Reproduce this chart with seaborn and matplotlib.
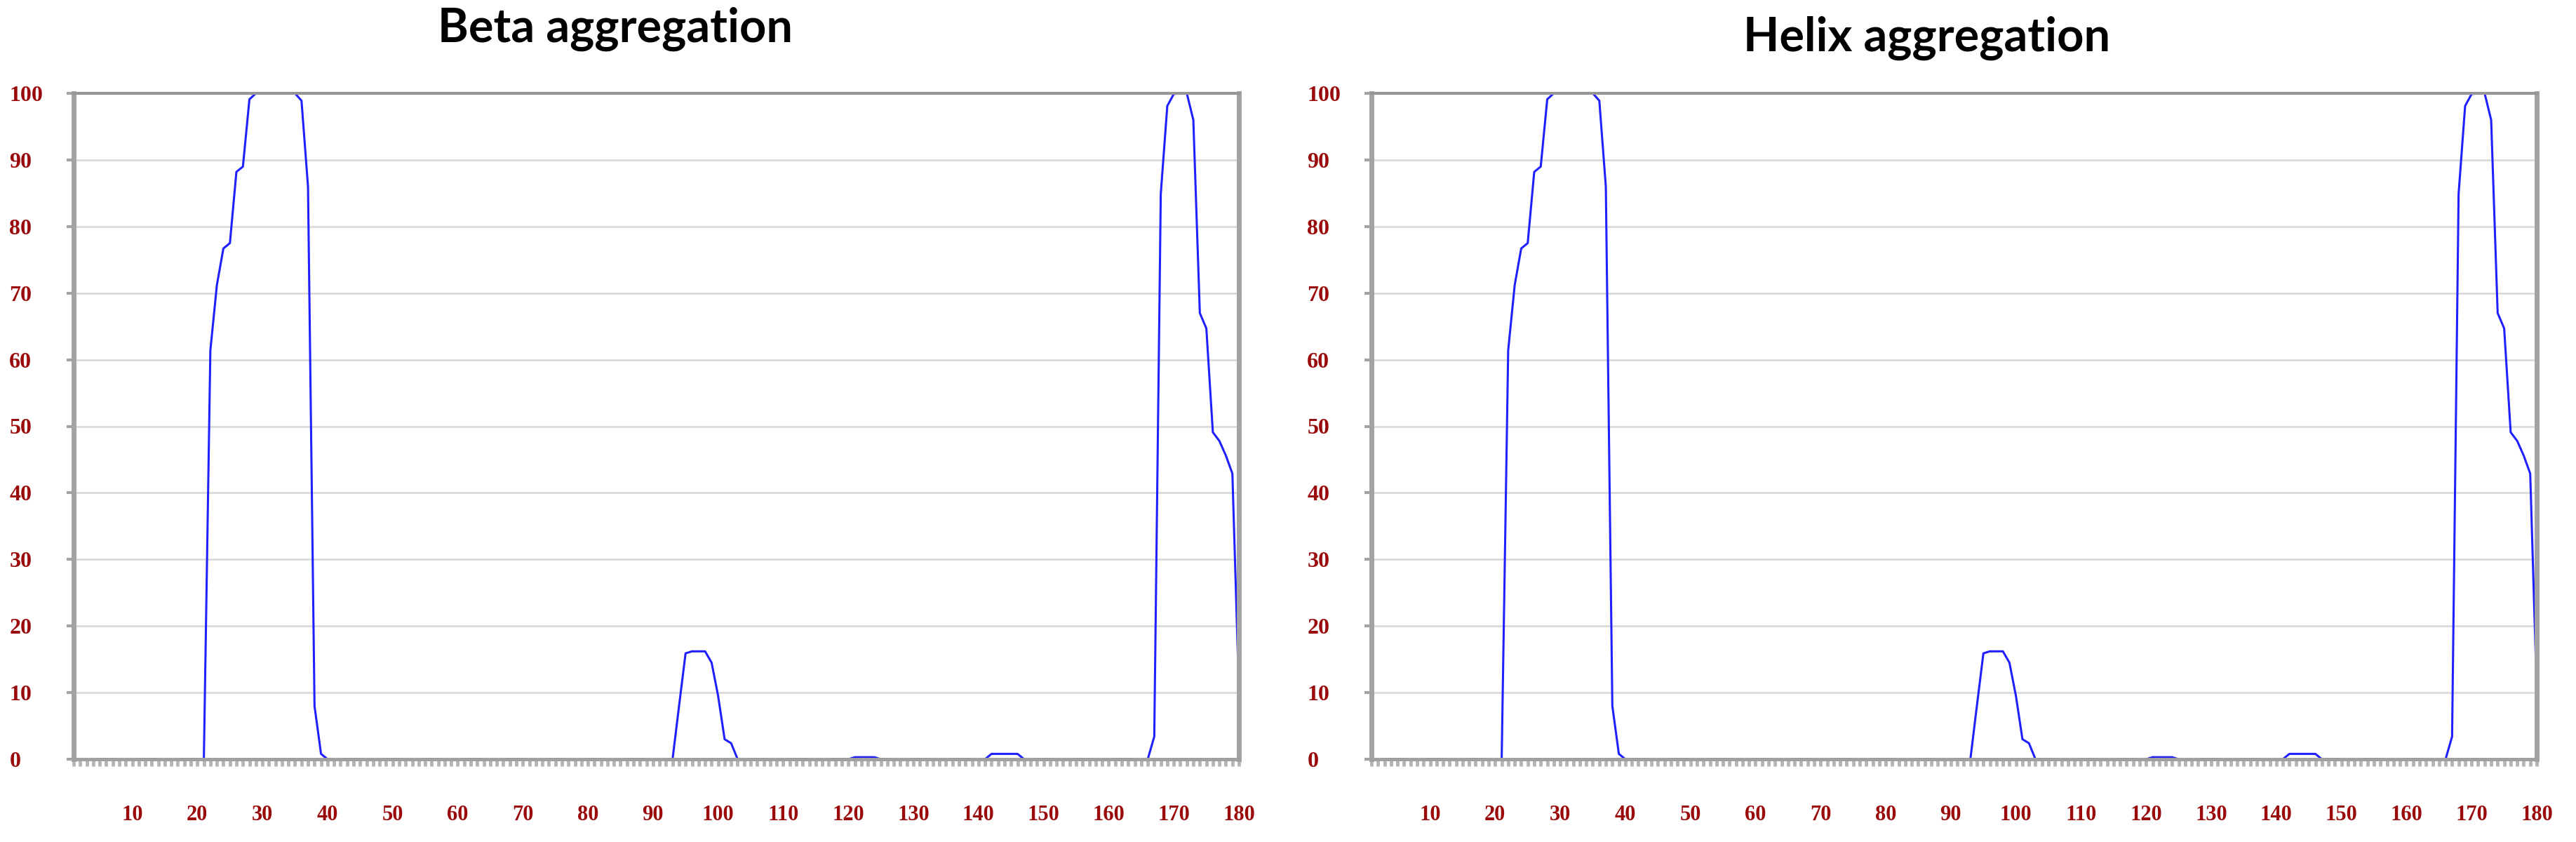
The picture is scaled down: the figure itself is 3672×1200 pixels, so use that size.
import numpy as np
import pandas as pd
import matplotlib
matplotlib.use("Agg")
import matplotlib.pyplot as plt
from matplotlib.ticker import MultipleLocator
import seaborn as sns

# residue positions along the sequence
residues = list(range(1, 181))

# aggregation profile (%), residue 1..180
beta_values = [
    0, 0, 0, 0, 0, 0, 0, 0, 0, 0,
    0, 0, 0, 0, 0, 0, 0, 0, 0, 0,
    0, 61.4, 71.2, 76.7, 77.5, 88.2, 89.0, 99.1, 100, 100,
    100, 100, 100, 100, 100, 98.9, 86.0, 8.0, 0.8, 0,
    0, 0, 0, 0, 0, 0, 0, 0, 0, 0,
    0, 0, 0, 0, 0, 0, 0, 0, 0, 0,
    0, 0, 0, 0, 0, 0, 0, 0, 0, 0,
    0, 0, 0, 0, 0, 0, 0, 0, 0, 0,
    0, 0, 0, 0, 0, 0, 0, 0, 0, 0,
    0, 0, 0, 8.0, 15.9, 16.2, 16.2, 16.2, 14.5, 9.5,
    3.0, 2.4, 0, 0, 0, 0, 0, 0, 0, 0,
    0, 0, 0, 0, 0, 0, 0, 0, 0, 0,
    0.3, 0.3, 0.3, 0.3, 0, 0, 0, 0, 0, 0,
    0, 0, 0, 0, 0, 0, 0, 0, 0, 0,
    0, 0.8, 0.8, 0.8, 0.8, 0.8, 0, 0, 0, 0,
    0, 0, 0, 0, 0, 0, 0, 0, 0, 0,
    0, 0, 0, 0, 0, 0, 3.4, 84.9, 98.1, 99.9,
    100, 100, 96.0, 67.0, 64.7, 49.1, 47.8, 45.6, 42.9, 10.4,
]
helix_values = list(beta_values)

titles = ["Beta aggregation", "Helix aggregation"]
x_ticks = list(range(10, 181, 10))
y_ticks = list(range(0, 101, 10))

sns.set_style("white")
W, H = 3673, 1200
fig = plt.figure(figsize=(W / 100, H / 100), dpi=100)

label_color = "#9b0a0a"
serif = ["Liberation Serif", "DejaVu Serif"]

panels = [
    (105, beta_values, titles[0], 877, 60),
    (1955, helix_values, titles[1], 2747, 73),
]

for left_px, vals, title, tx, ty in panels:
    ax = fig.add_axes([left_px / W, (H - 1082) / H, 1661 / W, 949 / H])
    df = pd.DataFrame({"residue": residues, "score": vals})
    sns.lineplot(data=df, x="residue", y="score", ax=ax, color="#2020ff",
                 linewidth=2.2)
    ax.set_xlim(1, 180)
    ax.set_ylim(0, 100)
    ax.set_xlabel("")
    ax.set_ylabel("")

    ax.set_yticks(y_ticks)
    ax.set_xticks(x_ticks)
    ax.xaxis.set_minor_locator(MultipleLocator(1))
    ax.yaxis.grid(True, color="#dadada", linewidth=2)
    ax.xaxis.grid(False)
    ax.set_axisbelow(True)

    for side in ["left", "right"]:
        ax.spines[side].set_color("#a3a3a3")
        ax.spines[side].set_linewidth(5)
    ax.spines["top"].set_color("#959595")
    ax.spines["top"].set_linewidth(3)
    ax.spines["bottom"].set_color("#a0a0a0")
    ax.spines["bottom"].set_linewidth(3.5)

    ax.tick_params(axis="y", which="major", left=True, length=7, width=3,
                   color="#a3a3a3", pad=59, labelcolor=label_color)
    ax.tick_params(axis="x", which="both", bottom=True, length=7, width=3.4,
                   color="#b4b4b4", direction="out")
    ax.tick_params(axis="x", which="major", pad=40, labelcolor=label_color)

    ax.set_yticklabels([str(v) for v in y_ticks],
                       fontdict=dict(family=serif, weight="bold", size=23))
    ax.set_xticklabels([str(v) for v in x_ticks],
                       fontdict=dict(family=serif, weight="bold", size=22))
    for t in ax.get_yticklabels():
        t.set_horizontalalignment("left")

    fig.text(tx / W, 1 - ty / H, title, ha="center", va="baseline",
             fontsize=48, fontweight="bold", family=["Lato", "DejaVu Sans"],
             color="black")

fig.savefig("out.png", dpi=100, facecolor="white")
